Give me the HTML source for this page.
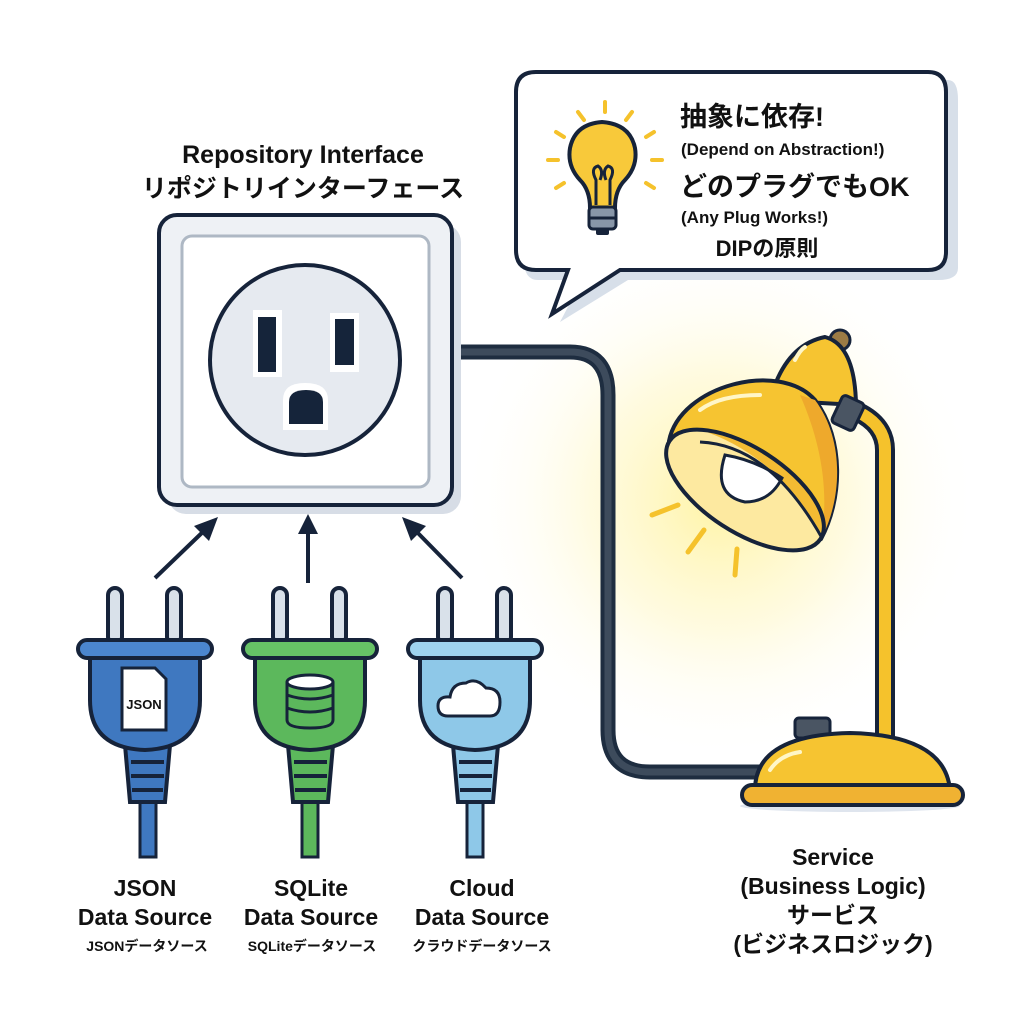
<!DOCTYPE html>
<html><head><meta charset="utf-8"><style>
html,body{margin:0;padding:0;background:#fff}
svg{display:block}
text{font-family:"Liberation Sans","Noto Sans CJK JP",sans-serif;font-weight:bold;fill:#111}
</style></head><body>
<svg width="1024" height="1024" viewBox="0 0 1024 1024" xmlns="http://www.w3.org/2000/svg">
<defs>
<radialGradient id="glow" cx="720" cy="500" r="260" gradientUnits="userSpaceOnUse">
<stop offset="0" stop-color="#fff3a0" stop-opacity="0.95"/>
<stop offset="0.5" stop-color="#fff8cc" stop-opacity="0.6"/>
<stop offset="1" stop-color="#ffffff" stop-opacity="0"/>
</radialGradient>
<clipPath id="op"><ellipse cx="745" cy="490" rx="90" ry="42" transform="rotate(33 745 490)"/></clipPath>
</defs>
<rect width="1024" height="1024" fill="#fff"/>
<circle cx="720" cy="500" r="260" fill="url(#glow)"/>

<text x="303" y="163" font-size="25" text-anchor="middle">Repository Interface</text>
<text x="303" y="197" font-size="25" text-anchor="middle">リポジトリインターフェース</text>

<path d="M452 352 H570 Q608 352 608 395 V730 Q608 772 650 772 H760" fill="none" stroke="#1e2d40" stroke-width="15"/>
<path d="M452 352 H570 Q608 352 608 395 V730 Q608 772 650 772 H760" fill="none" stroke="#3d4b5c" stroke-width="7"/>

<rect x="168" y="224" width="293" height="290" rx="18" fill="#d7dde6"/>
<rect x="159" y="215" width="293" height="290" rx="18" fill="#eef1f5" stroke="#16233a" stroke-width="4"/>
<rect x="182" y="236" width="247" height="251" rx="10" fill="#fff" stroke="#aeb8c4" stroke-width="3"/>
<circle cx="305" cy="360" r="95" fill="#e6eaf0" stroke="#16233a" stroke-width="4"/>
<rect x="253" y="310" width="29" height="67" fill="#fff"/>
<rect x="258" y="317" width="18" height="55" fill="#15243a"/>
<rect x="330" y="313" width="29" height="59" fill="#fff"/>
<rect x="335" y="319" width="19" height="46" fill="#15243a"/>
<path d="M283 430 V400 Q283 383 305 383 Q328 383 328 400 V430 Z" fill="#fff"/>
<path d="M289 424 V402 Q289 390 306 390 Q323 390 323 402 V424 Z" fill="#15243a"/>

<g stroke="#16233a" stroke-width="4" fill="#16233a">
<line x1="155" y1="578" x2="208" y2="527"/>
<polygon points="218,517 194,526 209,541" stroke="none"/>
<line x1="308" y1="583" x2="308" y2="530"/>
<polygon points="308,514 298,534 318,534" stroke="none"/>
<line x1="462" y1="578" x2="412" y2="527"/>
<polygon points="402,517 426,526 411,541" stroke="none"/>
</g>

<g>
<rect x="108" y="588" width="14" height="56" rx="7" fill="#d9e1ea" stroke="#16233a" stroke-width="4"/>
<rect x="167" y="588" width="14" height="56" rx="7" fill="#d9e1ea" stroke="#16233a" stroke-width="4"/>
<rect x="140" y="800" width="16" height="57" fill="#3f78c0" stroke="#16233a" stroke-width="3"/>
<path d="M125 745 H170 L165 802 H130 Z" fill="#3f78c0" stroke="#16233a" stroke-width="4"/>
<g stroke="#16233a" stroke-width="4"><line x1="131" y1="762" x2="164" y2="762"/><line x1="131" y1="776" x2="164" y2="776"/><line x1="132" y1="790" x2="163" y2="790"/></g>
<path d="M90 656 H200 V700 Q200 748 145 750 Q90 748 90 700 Z" fill="#3f78c0" stroke="#16233a" stroke-width="4"/>
<rect x="78" y="640" width="134" height="18" rx="9" fill="#4b86cf" stroke="#16233a" stroke-width="4"/>
<path d="M122 668 H155 L166 679 V730 H122 Z" fill="#fff" stroke="#16233a" stroke-width="3"/>
<text x="144" y="709" font-size="13" text-anchor="middle">JSON</text>
</g>
<g>
<rect x="273" y="588" width="14" height="56" rx="7" fill="#d9e1ea" stroke="#16233a" stroke-width="4"/>
<rect x="332" y="588" width="14" height="56" rx="7" fill="#d9e1ea" stroke="#16233a" stroke-width="4"/>
<rect x="302" y="800" width="16" height="57" fill="#5cb85c" stroke="#16233a" stroke-width="3"/>
<path d="M288 745 H333 L328 802 H293 Z" fill="#5cb85c" stroke="#16233a" stroke-width="4"/>
<g stroke="#16233a" stroke-width="4"><line x1="294" y1="762" x2="327" y2="762"/><line x1="294" y1="776" x2="327" y2="776"/><line x1="295" y1="790" x2="326" y2="790"/></g>
<path d="M255 656 H365 V700 Q365 748 310 750 Q255 748 255 700 Z" fill="#5cb85c" stroke="#16233a" stroke-width="4"/>
<rect x="243" y="640" width="134" height="18" rx="9" fill="#66c266" stroke="#16233a" stroke-width="4"/>
<path d="M287 682 V720 Q287 728 310 728 Q333 728 333 720 V682" fill="#5cb85c" stroke="#16233a" stroke-width="3"/>
<ellipse cx="310" cy="682" rx="23" ry="7" fill="#fff" stroke="#16233a" stroke-width="3"/>
<path d="M287 695 Q310 703 333 695 M287 708 Q310 716 333 708" fill="none" stroke="#16233a" stroke-width="3"/>
</g>
<g>
<rect x="438" y="588" width="14" height="56" rx="7" fill="#d9e1ea" stroke="#16233a" stroke-width="4"/>
<rect x="497" y="588" width="14" height="56" rx="7" fill="#d9e1ea" stroke="#16233a" stroke-width="4"/>
<rect x="467" y="800" width="16" height="57" fill="#8ec8e8" stroke="#16233a" stroke-width="3"/>
<path d="M453 745 H498 L493 802 H458 Z" fill="#8ec8e8" stroke="#16233a" stroke-width="4"/>
<g stroke="#16233a" stroke-width="4"><line x1="459" y1="762" x2="492" y2="762"/><line x1="459" y1="776" x2="492" y2="776"/><line x1="460" y1="790" x2="491" y2="790"/></g>
<path d="M420 656 H530 V700 Q530 748 475 750 Q420 748 420 700 Z" fill="#8ec8e8" stroke="#16233a" stroke-width="4"/>
<rect x="408" y="640" width="134" height="18" rx="9" fill="#9fd3ef" stroke="#16233a" stroke-width="4"/>
<path d="M448 716 Q438 716 438 706 Q438 696 450 697 Q452 683 466 683 Q476 677 486 688 Q500 688 500 702 Q500 716 490 716 Z" fill="#fff" stroke="#16233a" stroke-width="3"/>
</g>

<g font-size="23" text-anchor="middle">
<text x="145" y="896">JSON</text><text x="145" y="925">Data Source</text>
<text x="311" y="896">SQLite</text><text x="311" y="925">Data Source</text>
<text x="482" y="896">Cloud</text><text x="482" y="925">Data Source</text>
</g>
<g font-size="14" text-anchor="middle">
<text x="147" y="951">JSONデータソース</text>
<text x="312" y="951">SQLiteデータソース</text>
<text x="482" y="951">クラウドデータソース</text>
</g>

<!-- lamp -->
<ellipse cx="850" cy="806" rx="110" ry="6" fill="#dfe5ee"/>
<rect x="795" y="718" width="35" height="20" rx="4" fill="#4a5563" stroke="#16233a" stroke-width="3"/>
<path d="M885 740 V450 Q885 425 858 412" fill="none" stroke="#16233a" stroke-width="20" stroke-linecap="round"/>
<path d="M885 740 V450 Q885 425 858 412" fill="none" stroke="#f5c22c" stroke-width="12" stroke-linecap="round"/>
<path d="M755 790 Q755 735 850 733 Q945 735 950 790 Z" fill="#f6c431" stroke="#16233a" stroke-width="4"/>
<rect x="742" y="785" width="221" height="20" rx="10" fill="#f0b232" stroke="#16233a" stroke-width="4"/>
<path d="M770 770 Q780 755 800 752" fill="none" stroke="#fff6c8" stroke-width="4" stroke-linecap="round"/>
<circle cx="840" cy="340" r="10" fill="#9b7b45" stroke="#16233a" stroke-width="3"/>
<path d="M770 400 Q785 345 825 337 Q855 345 856 405 Z" fill="#f6c431" stroke="#16233a" stroke-width="4"/>
<path d="M795 360 Q800 350 805 347" stroke="#fff6c8" stroke-width="4" fill="none" stroke-linecap="round"/>
<rect x="836" y="398" width="24" height="30" rx="4" transform="rotate(25 848 413)" fill="#4a5563" stroke="#16233a" stroke-width="3"/>
<path d="M669 441 C680 385 780 360 815 400 C845 440 842 500 821 539 Z" fill="#f6c431" stroke="#16233a" stroke-width="4" stroke-linejoin="round"/>
<path d="M815 400 C845 440 842 500 821 539 C830 490 820 440 800 395 Z" fill="#eea92c"/>
<g clip-path="url(#op)">
<ellipse cx="745" cy="490" rx="90" ry="42" transform="rotate(33 745 490)" fill="#fde9a0"/>
<path d="M650 420 Q770 430 830 550 L870 380 Z" fill="#f3bb33"/>
</g>
<path d="M725 455 Q712 495 745 502 Q770 502 782 478 Q755 460 725 455 Z" fill="#fff" stroke="#16233a" stroke-width="3"/>
<path d="M700 442 Q770 445 822 538" fill="none" stroke="#16233a" stroke-width="3"/>
<ellipse cx="745" cy="490" rx="90" ry="42" transform="rotate(33 745 490)" fill="none" stroke="#16233a" stroke-width="4"/>
<path d="M700 410 Q720 395 760 395" fill="none" stroke="#fff6c8" stroke-width="4" stroke-linecap="round"/>
<g stroke="#f5c22c" stroke-width="5" stroke-linecap="round">
<line x1="652" y1="515" x2="678" y2="505"/><line x1="688" y1="552" x2="704" y2="530"/><line x1="735" y1="575" x2="737" y2="549"/>
</g>

<g font-size="23" text-anchor="middle">
<text x="833" y="865">Service</text>
<text x="833" y="894">(Business Logic)</text>
<text x="833" y="923">サービス</text>
<text x="833" y="952">(ビジネスロジック)</text>
</g>

<path d="M538 80 H948 Q958 80 958 100 V268 Q958 280 938 280 H628 L560 322 L582 280 H538 Q524 280 524 260 V100 Q524 80 538 80 Z" fill="#d7dfe9"/>
<path d="M536 72 H928 Q946 72 946 92 V252 Q946 270 928 270 H620 L552 314 L568 270 H536 Q516 270 516 250 V92 Q516 72 536 72 Z" fill="#fff" stroke="#16233a" stroke-width="4"/>
<g stroke="#f5c22c" stroke-width="4" stroke-linecap="round">
<line x1="605" y1="102" x2="605" y2="112"/><line x1="578" y1="112" x2="584" y2="120"/><line x1="632" y1="112" x2="626" y2="120"/>
<line x1="556" y1="132" x2="564" y2="137"/><line x1="654" y1="132" x2="646" y2="137"/>
<line x1="548" y1="160" x2="558" y2="160"/><line x1="652" y1="160" x2="662" y2="160"/>
<line x1="556" y1="188" x2="564" y2="183"/><line x1="654" y1="188" x2="646" y2="183"/>
</g>
<path d="M590 208 Q590 190 580 180 Q567 166 570 148 Q575 124 602 122 Q630 124 635 148 Q638 166 625 180 Q615 190 615 208 Z" fill="#f8c93a" stroke="#16233a" stroke-width="4"/>
<path d="M596 205 V180 Q590 168 598 166 Q604 170 600 180 M610 205 V180 Q616 168 608 166 Q602 170 606 180" fill="none" stroke="#16233a" stroke-width="3"/>
<rect x="589" y="207" width="27" height="22" rx="4" fill="#8896a8" stroke="#16233a" stroke-width="3"/>
<line x1="590" y1="218" x2="615" y2="218" stroke="#16233a" stroke-width="3"/>
<rect x="596" y="229" width="13" height="6" rx="2" fill="#16233a"/>
<text x="680" y="126" font-size="27">抽象に依存!</text>
<text x="681" y="155" font-size="17">(Depend on Abstraction!)</text>
<text x="680" y="196" font-size="27">どのプラグでもOK</text>
<text x="681" y="223" font-size="17">(Any Plug Works!)</text>
<text x="767" y="256" font-size="22" text-anchor="middle">DIPの原則</text>
</svg>
</body></html>
